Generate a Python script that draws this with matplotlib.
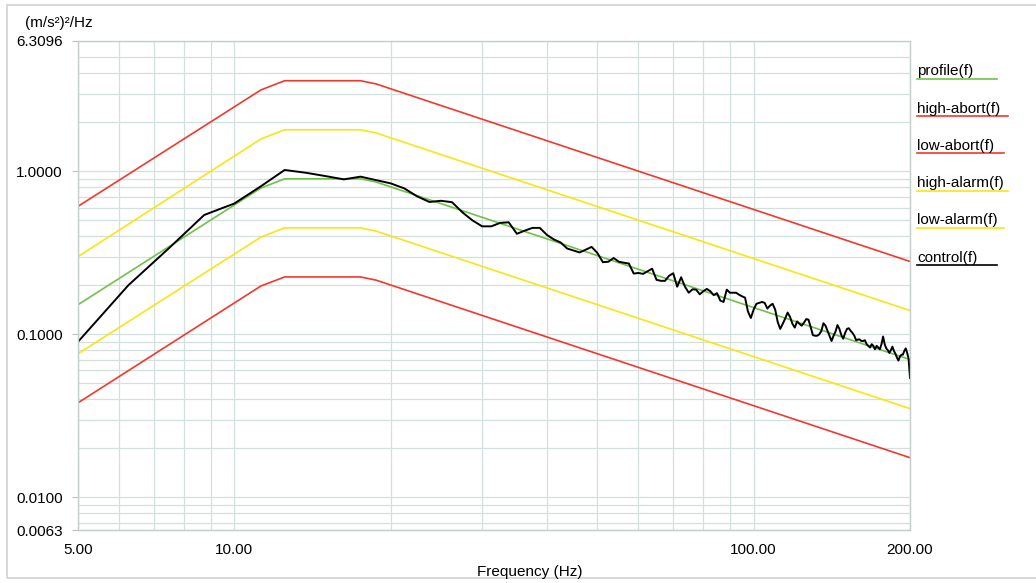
import matplotlib
matplotlib.use("Agg")
import matplotlib.pyplot as plt
from matplotlib.lines import Line2D
from matplotlib.patches import Rectangle
from matplotlib.ticker import FixedLocator, NullFormatter

plt.rcParams['font.family'] = ['Liberation Sans', 'DejaVu Sans']

# Profile and limit lines (vertices)
limit_freq = [5, 11.25, 12.5, 17.5, 18.75, 200]
profile = [0.152, 0.79, 0.90, 0.90, 0.86, 0.070]
high_abort = [0.61, 3.16, 3.60, 3.60, 3.44, 0.28]
low_abort = [0.038, 0.198, 0.225, 0.225, 0.215, 0.0175]
high_alarm = [0.30, 1.58, 1.80, 1.80, 1.72, 0.14]
low_alarm = [0.076, 0.395, 0.45, 0.45, 0.43, 0.035]

# Control spectrum
control_freq = [
    5, 6.25, 7.5, 8.75, 10, 11.25, 12.5, 13.75,
    15, 16.25, 17.5, 18.75, 20, 21.25, 22.5, 23.75,
    25, 26.25, 27.5, 28.75, 30, 31.25, 32.5, 33.75,
    35, 36.25, 37.5, 38.75, 40, 41.25, 42.5, 43.75,
    45, 46.25, 47.5, 48.75, 50, 51.25, 52.5, 53.75,
    55, 56.25, 57.5, 58.75, 60, 61.25, 62.5, 63.75,
    65, 66.25, 67.5, 68.75, 70, 71.25, 72.5, 73.75,
    75, 76.25, 77.5, 78.75, 80, 81.25, 82.5, 83.75,
    85, 86.25, 87.5, 88.75, 90, 91.25, 92.5, 93.75,
    95, 96.25, 97.5, 98.75, 100, 101.25, 102.5, 103.75,
    105, 106.25, 107.5, 108.75, 110, 111.25, 112.5, 113.75,
    115, 116.25, 117.5, 118.75, 120, 121.25, 122.5, 123.75,
    125, 126.25, 127.5, 128.75, 130, 131.25, 132.5, 133.75,
    135, 136.25, 137.5, 138.75, 140, 141.25, 142.5, 143.75,
    145, 146.25, 147.5, 148.75, 150, 151.25, 152.5, 153.75,
    155, 156.25, 157.5, 158.75, 160, 161.25, 162.5, 163.75,
    165, 166.25, 167.5, 168.75, 170, 171.25, 172.5, 173.75,
    175, 176.25, 177.5, 178.75, 180, 181.25, 182.5, 183.75,
    185, 186.25, 187.5, 188.75, 190, 191.25, 192.5, 193.75,
    195, 196.25, 197.5, 198.75, 200,
]
control = [
    0.090, 0.20, 0.34, 0.54, 0.635, 0.81, 1.02, 0.98,
    0.935, 0.893, 0.928, 0.884, 0.844, 0.786, 0.702, 0.649,
    0.66, 0.647, 0.56, 0.50, 0.46, 0.46, 0.483, 0.487,
    0.414, 0.433, 0.45, 0.45, 0.407, 0.382, 0.366, 0.336,
    0.327, 0.318, 0.331, 0.344, 0.316, 0.277, 0.279, 0.294,
    0.279, 0.275, 0.272, 0.236, 0.238, 0.235, 0.244, 0.253,
    0.216, 0.213, 0.213, 0.229, 0.237, 0.196, 0.224, 0.196,
    0.180, 0.189, 0.188, 0.176, 0.184, 0.190, 0.184, 0.174,
    0.179, 0.161, 0.158, 0.188, 0.180, 0.180, 0.180, 0.175,
    0.171, 0.168, 0.138, 0.126, 0.142, 0.154, 0.156, 0.158,
    0.156, 0.144, 0.150, 0.154, 0.142, 0.119, 0.108, 0.116,
    0.125, 0.136, 0.128, 0.116, 0.110, 0.120, 0.116, 0.113,
    0.118, 0.124, 0.123, 0.111, 0.099, 0.098, 0.098, 0.100,
    0.105, 0.117, 0.113, 0.105, 0.098, 0.091, 0.098, 0.104,
    0.114, 0.108, 0.099, 0.094, 0.102, 0.108, 0.109, 0.105,
    0.102, 0.098, 0.092, 0.093, 0.093, 0.091, 0.091, 0.092,
    0.087, 0.085, 0.083, 0.087, 0.085, 0.081, 0.085, 0.083,
    0.081, 0.087, 0.097, 0.087, 0.082, 0.080, 0.077, 0.080,
    0.084, 0.079, 0.076, 0.072, 0.069, 0.073, 0.075, 0.075,
    0.079, 0.082, 0.077, 0.071, 0.054,
]

# Axis ticks / grid
y_ticks = [0.0063, 0.01, 0.1, 1.0, 6.3096]
y_tick_labels = ['0.0063', '0.0100', '0.1000', '1.0000', '6.3096']
y_grid = [0.007, 0.008, 0.009, 0.02, 0.03, 0.04, 0.05, 0.06, 0.07, 0.08, 0.09,
          0.2, 0.3, 0.4, 0.5, 0.6, 0.7, 0.8, 0.9, 2, 3, 4, 5]
x_ticks = [5, 10, 100, 200]
x_tick_labels = ['5.00', '10.00', '100.00', '200.00']
x_grid = [6, 7, 8, 9, 20, 30, 40, 50, 60, 70, 80, 90]

legend_labels = ['profile(f)', 'high-abort(f)', 'low-abort(f)',
                 'high-alarm(f)', 'low-alarm(f)', 'control(f)']

W, H = 1036, 583
fig = plt.figure(figsize=(W / 100, H / 100), dpi=100)
ax = fig.add_axes([78 / W, (H - 530) / H, 832 / W, 489 / H])

red = '#f2382c'
yellow = '#f7e614'
green = '#72c04c'
colors = [green, red, red, yellow, yellow, 'black']

ax.plot(limit_freq, high_abort, color=red, lw=1.2)
ax.plot(limit_freq, low_abort, color=red, lw=1.2)
ax.plot(limit_freq, high_alarm, color=yellow, lw=1.2)
ax.plot(limit_freq, low_alarm, color=yellow, lw=1.2)
ax.plot(limit_freq, profile, color=green, lw=1.2)
ax.plot(control_freq, control, color='black', lw=1.4)

ax.set_xscale('log')
ax.set_yscale('log')
ax.set_xlim(5, 200)
ax.set_ylim(0.0063, 6.3096)

grid_col = '#d3e0e0'
ax.xaxis.set_major_locator(FixedLocator(x_ticks))
ax.set_xticklabels(x_tick_labels)
ax.xaxis.set_minor_locator(FixedLocator(x_grid))
ax.xaxis.set_minor_formatter(NullFormatter())
ax.yaxis.set_major_locator(FixedLocator(y_ticks))
ax.set_yticklabels(y_tick_labels)
ax.yaxis.set_minor_locator(FixedLocator(y_grid))
ax.yaxis.set_minor_formatter(NullFormatter())
ax.grid(True, which='both', color=grid_col, lw=0.9)
ax.set_axisbelow(True)

ax.tick_params(axis='x', which='both', length=0, pad=9, labelsize=11)
ax.tick_params(axis='y', which='major', length=4, color='#b8c0c0', pad=7, labelsize=11)
ax.tick_params(axis='y', which='minor', length=0)
for s in ax.spines.values():
    s.set_color('#c4cccc')
    s.set_linewidth(1.0)

fig.text(25 / W, 1 - 23 / H, '(m/s\u00b2)\u00b2/Hz', fontsize=11, va='center', ha='left')
fig.text(530 / W, 1 - 572 / H, 'Frequency (Hz)', fontsize=11, va='center', ha='center')

# legend drawn as underlined labels
underline_len = [80, 91, 87, 91, 87, 80]
for i, (lab, col) in enumerate(zip(legend_labels, colors)):
    y_line = 78.7 + i * 37.3
    fig.text(917 / W, 1 - (y_line - 3.5) / H, lab, fontsize=11, ha='left', va='baseline')
    fig.add_artist(Line2D([917 / W, (917 + underline_len[i]) / W],
                          [1 - y_line / H, 1 - y_line / H],
                          color=col, lw=1.2, transform=fig.transFigure))

fig.add_artist(Rectangle((7 / W, 5 / H), 1.2, 573 / H, fill=False, ec='#d2d2d2', lw=1.2,
                         transform=fig.transFigure, clip_on=False))

fig.savefig('out.png', dpi=100)
